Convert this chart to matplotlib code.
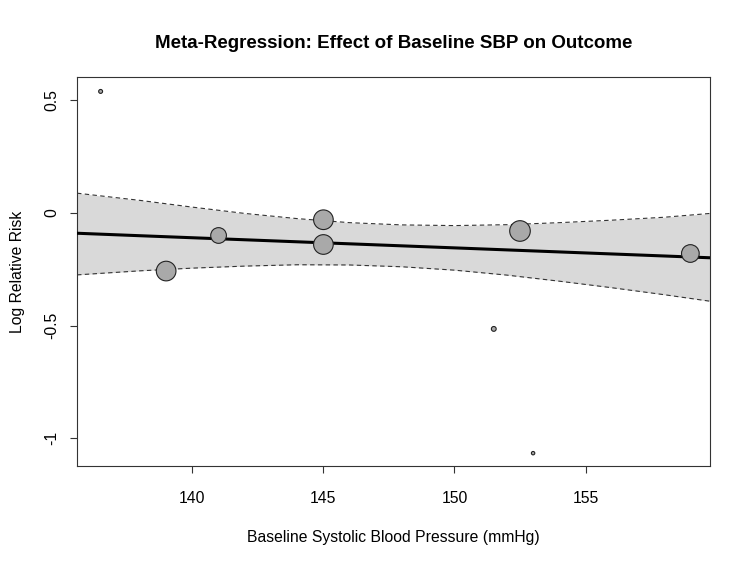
import numpy as np
import matplotlib
matplotlib.use('Agg')
import matplotlib.pyplot as plt

plt.rcParams['font.family'] = ['Liberation Sans', 'DejaVu Sans']

# study level data
sbp = [136.5, 139, 141, 145, 145, 151.5, 152.5, 153, 159]
log_rr = [0.54, -0.258, -0.10, -0.03, -0.14, -0.515, -0.08, -1.067, -0.18]
weight = [4, 100, 64, 100, 100, 6, 110, 3, 81]

# fitted line and confidence band
grid_x = [135.6, 138, 140, 142, 144, 146, 148, 150, 152, 154, 156, 158, 159.75]
fit_y = [-0.090, -0.101, -0.110, -0.119, -0.128, -0.137, -0.146, -0.155, -0.164, -0.173, -0.182, -0.191, -0.199]
ci_upper = [0.088, 0.056, 0.026, -0.002, -0.025, -0.043, -0.053, -0.056, -0.052, -0.043, -0.032, -0.019, -0.002]
ci_lower = [-0.275, -0.257, -0.245, -0.236, -0.230, -0.231, -0.239, -0.254, -0.276, -0.303, -0.332, -0.363, -0.392]

x_ticks = [140, 145, 150, 155]
y_ticks = [0.5, 0, -0.5, -1]
y_tick_labels = ['0.5', '0', '-0.5', '-1']

fig = plt.figure(figsize=(7.5, 5.63), dpi=100)
ax = fig.add_axes([0.1027, 0.1723, 0.844, 0.6909])

ax.fill_between(grid_x, ci_lower, ci_upper, color='#d9d9d9', linewidth=0, zorder=1)
ax.plot(grid_x, ci_upper, linestyle=(0, (4, 3)), color='#333333', linewidth=0.8, zorder=2)
ax.plot(grid_x, ci_lower, linestyle=(0, (4, 3)), color='#333333', linewidth=0.8, zorder=2)
ax.plot(grid_x, fit_y, color='black', linewidth=2.2, zorder=3)

sizes = np.array(weight) * 2.0
ax.scatter(sbp, log_rr, s=sizes, facecolor='#a9a9a9', edgecolor='#222222', linewidth=0.8, zorder=4)

ax.set_xlim(135.6, 159.75)
ax.set_ylim(-1.124, 0.604)
ax.set_xticks(x_ticks)
ax.set_yticks(y_ticks)
ax.set_yticklabels(y_tick_labels, rotation=90, va='center')
ax.tick_params(direction='out', length=5, width=0.8, colors='#333333', labelcolor='black', labelsize=11.3)
ax.tick_params(axis='x', pad=13)
ax.tick_params(axis='y', pad=8)
for sp in ax.spines.values():
    sp.set_color('#333333')
    sp.set_linewidth(0.8)

ax.set_title('Meta-Regression: Effect of Baseline SBP on Outcome', fontsize=13.5, fontweight='bold', pad=21)
ax.set_xlabel('Baseline Systolic Blood Pressure (mmHg)', fontsize=11.3, labelpad=17)
ax.set_ylabel('Log Relative Risk', fontsize=11.3, labelpad=14)

fig.savefig('out.png', dpi=100)
